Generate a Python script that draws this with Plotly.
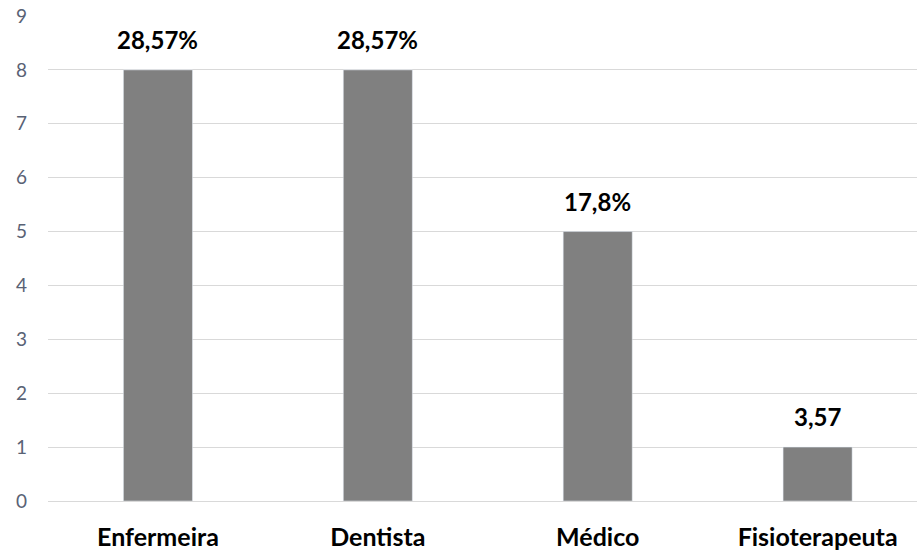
import plotly.graph_objects as go

categories = ["Enfermeira", "Dentista", "Médico", "Fisioterapeuta"]
values = [8, 8, 5, 1]
labels = ["28,57%", "28,57%", "17,8%", "3,57"]
y_ticks = [0, 1, 2, 3, 4, 5, 6, 7, 8, 9]

fig = go.Figure()
fig.add_trace(go.Bar(
    x=categories, y=values, marker_color="#808080", width=0.314,
    hoverinfo="skip",
))
for c, v, t in zip(categories, values, labels):
    fig.add_annotation(x=c, y=v, text="<b>%s</b>" % t, showarrow=False,
                       yanchor="bottom", yshift=14,
                       font=dict(family="Lato", size=24, color="#000000"))

fig.update_layout(
    width=917, height=553,
    margin=dict(l=48, r=0, t=16, b=52),
    plot_bgcolor="white", paper_bgcolor="white",
    showlegend=False,
    xaxis=dict(
        type="category", range=[-0.5, 3.452],
        showgrid=False, showline=False, zeroline=False,
        tickfont=dict(family="Lato", size=25, color="#000000", weight="bold"),
        ticklabelstandoff=19,
    ),
    yaxis=dict(
        range=[0, 9], tickvals=y_ticks,
        showgrid=True, gridcolor="#D9D9D9", gridwidth=1.3,
        zeroline=True, zerolinecolor="#D9D9D9", zerolinewidth=1.3,
        showline=False,
        tickfont=dict(family="Lato", size=19, color="#596275"),
        ticklabelstandoff=20,
    ),
)
fig.write_html("out.html")
